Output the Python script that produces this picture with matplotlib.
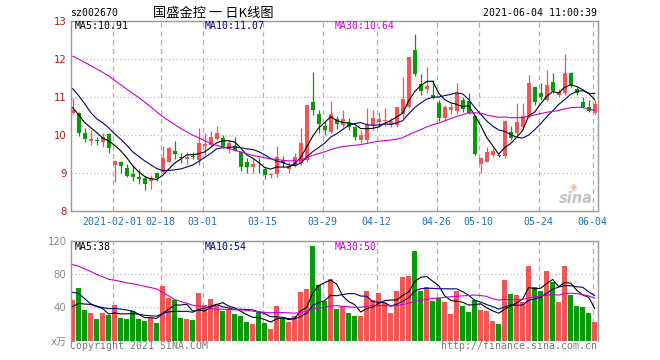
import matplotlib
matplotlib.use('Agg')
import matplotlib.pyplot as plt
import numpy as np
import pandas as pd

# daily K-line, 2021-01-21 .. 2021-06-04 (88 trading days)
open_ = [10.58, 10.57, 10.06, 9.83, 9.85, 9.81, 10.02, 9.22, 9.30, 9.12,
         8.97, 8.89, 8.88, 8.80, 9.00, 9.03, 9.30, 9.58, 9.41, 9.37,
         9.44, 9.34, 9.70, 9.74, 9.89, 9.91, 9.63, 9.71, 9.56, 9.30,
         9.15, 9.22, 9.10, 8.95, 8.97, 9.34, 9.10, 9.18, 9.26, 9.34,
         10.88, 10.55, 10.24, 10.09, 10.42, 10.26, 10.33, 10.22, 9.87, 9.87,
         10.27, 10.35, 10.36, 10.30, 10.26, 10.55, 10.75, 12.24, 11.34, 11.20,
         11.05, 10.83, 10.46, 10.66, 10.62, 10.92, 10.90, 10.50, 9.25, 9.30,
         9.48, 9.47, 9.45, 10.08, 10.04, 10.20, 10.48, 11.27, 11.10, 10.92,
         11.39, 11.05, 11.10, 11.62, 11.20, 10.88, 10.73, 10.58]
high = [10.97, 10.60, 10.18, 10.12, 9.96, 10.04, 10.04, 9.33, 9.32, 9.25,
        9.20, 9.10, 8.92, 8.95, 9.03, 9.70, 9.68, 9.83, 9.53, 9.54,
        9.56, 10.18, 10.04, 10.10, 10.24, 10.00, 9.88, 9.95, 9.58, 9.39,
        9.38, 9.39, 9.17, 9.01, 9.71, 9.45, 9.30, 9.53, 10.18, 10.80,
        11.67, 10.66, 10.35, 10.90, 10.50, 10.66, 10.46, 10.25, 10.13, 10.70,
        10.66, 10.61, 10.70, 10.45, 10.75, 11.53, 12.06, 12.66, 11.60, 11.78,
        11.45, 10.92, 10.80, 10.85, 11.38, 11.00, 11.11, 10.52, 9.42, 9.69,
        9.67, 9.50, 10.40, 10.25, 10.83, 10.83, 11.58, 11.30, 11.36, 11.71,
        11.64, 11.20, 12.13, 11.65, 11.27, 11.00, 10.92, 10.92]
low = [10.55, 9.97, 9.82, 9.73, 9.74, 9.69, 9.52, 8.77, 9.00, 8.90,
       8.78, 8.72, 8.56, 8.58, 8.80, 9.00, 9.28, 9.37, 9.26, 9.24,
       9.37, 9.22, 9.47, 9.72, 9.87, 9.66, 9.53, 9.57, 9.05, 9.00,
       9.01, 8.99, 8.83, 8.86, 8.90, 9.17, 9.00, 9.16, 9.22, 9.30,
       10.53, 10.05, 10.00, 10.05, 10.15, 10.22, 10.13, 9.87, 9.80, 9.80,
       10.13, 10.22, 10.25, 10.22, 10.20, 10.45, 10.70, 11.55, 11.05, 11.10,
       10.95, 10.38, 10.38, 10.55, 10.55, 10.60, 10.55, 9.48, 8.99, 9.28,
       9.43, 9.42, 9.40, 9.88, 10.00, 10.17, 10.45, 10.80, 10.92, 10.90,
       11.10, 11.00, 11.05, 11.27, 11.05, 10.70, 10.60, 10.55]
close = [10.66, 10.04, 9.89, 9.89, 9.84, 9.95, 9.65, 9.31, 9.18, 8.93,
         8.89, 8.84, 8.70, 8.88, 8.86, 9.40, 9.67, 9.50, 9.39, 9.43,
         9.42, 9.78, 9.76, 9.96, 10.06, 9.68, 9.78, 9.60, 9.17, 9.15,
         9.25, 9.20, 8.95, 8.97, 9.41, 9.26, 9.18, 9.41, 9.78, 10.79,
         10.66, 10.29, 10.12, 10.55, 10.28, 10.41, 10.22, 9.94, 10.00, 10.26,
         10.46, 10.41, 10.40, 10.38, 10.73, 10.95, 12.04, 11.60, 11.17, 11.29,
         10.98, 10.46, 10.75, 10.75, 11.10, 10.68, 10.57, 9.50, 9.39, 9.54,
         9.59, 9.45, 10.38, 9.93, 10.35, 10.51, 11.36, 10.88, 11.01, 11.32,
         11.17, 11.14, 11.64, 11.32, 11.11, 10.75, 10.64, 10.82]
volume = [48.8, 63.2, 36.8, 33.2, 26.0, 33.2, 31.2, 43.2, 27.2, 26.0,
          35.6, 26.0, 23.6, 27.2, 21.2, 65.6, 51.2, 48.8, 27.2, 26.0,
          24.8, 57.2, 42.8, 50.0, 42.8, 35.6, 36.8, 32.0, 29.6, 22.4,
          20.0, 34.0, 21.2, 14.0, 41.6, 27.2, 22.4, 29.6, 58.4, 62.0,
          113.6, 66.8, 47.6, 74.0, 38.0, 41.6, 33.2, 29.6, 29.6, 59.6,
          48.8, 57.2, 45.2, 33.2, 59.6, 76.4, 77.6, 107.6, 59.6, 64.4,
          47.6, 51.2, 46.4, 32.0, 59.6, 41.6, 34.4, 48.8, 36.8, 35.6,
          23.6, 20.0, 72.8, 56.0, 54.8, 46.4, 89.6, 64.4, 59.6, 83.6,
          70.4, 46.4, 89.6, 55.0, 42.0, 41.0, 33.0, 22.0]

# sessions before the window, estimated from where the MA lines start
prior_close = [12.3, 12.5, 12.4, 12.6, 12.5, 12.6, 12.8, 12.5, 12.4, 12.3,
               12.1, 12.3, 12.6, 12.9, 13.1, 12.9, 12.6, 12.4, 12.2, 12.0,
               11.9, 12.0, 12.2, 11.5, 11.0, 11.0, 10.9, 10.55, 10.5]
prior_volume = [120, 135, 125, 130, 118, 126, 75, 68, 80, 70,
                66, 74, 72, 70, 190, 175, 180, 100, 90, 95,
                75, 100, 95, 60, 45, 44, 41, 35, 36]

date_labels = ['2021-02-01', '02-18', '03-01', '03-15', '03-29',
               '04-12', '04-26', '05-10', '05-24', '06-04']
date_index = [7, 15, 22, 32, 42, 51, 61, 68, 78, 87]

price_ticks = [8, 9, 10, 11, 12, 13]
vol_ticks = [0, 40, 80, 120]
vol_tick_labels = ['x万', '40', '80', '120']

RED = '#f05656'
GREEN = '#0a990a'
MA_COLORS = ['#000000', '#000080', '#cc00cc']
FRAME = '#999999'
MONO = 'DejaVu Sans Mono'

W, H = 660, 360
fig = plt.figure(figsize=(6.6, 3.6), dpi=100)


def box(x0, y0, x1, y1):
    return [x0 / W, 1 - y1 / H, (x1 - x0) / W, (y1 - y0) / H]


def ftext(x, y, s, **kw):
    fig.text(x / W, 1 - y / H, s, va='center', **kw)


ax = fig.add_axes(box(70.7, 21, 597.7, 211))
axv = fig.add_axes(box(70.7, 240.7, 597.7, 340.7))

o = np.array(open_)
c = np.array(close)
x = np.arange(len(c))
cols = np.where(c >= o, RED, GREEN)

# candles
ax.vlines(x, low, high, colors=cols, lw=0.9, zorder=2)
ax.bar(x, np.maximum(np.abs(c - o), 0.02), bottom=np.minimum(o, c),
       width=0.72, color=cols, lw=0, zorder=3)

# moving averages
all_c = pd.Series(prior_close + close)
all_v = pd.Series(prior_volume + volume)
n0 = len(prior_close)
for n, col in zip([5, 10, 30], MA_COLORS):
    ax.plot(x, all_c.rolling(n).mean().to_numpy()[n0:], color=col, lw=0.8, zorder=4)
    axv.plot(x, all_v.rolling(n).mean().to_numpy()[n0:], color=col, lw=0.8, zorder=4)

# volume bars
axv.bar(x, volume, width=0.86, color=cols, lw=0, zorder=2)

grid_pos = [i - 0.35 for i in date_index]
for a in (ax, axv):
    a.set_xlim(-0.33, 87.5)
    a.set_xticks(grid_pos)
    a.grid(axis='x', color='#b0b0b0', lw=0.9, ls=(0, (4, 3)))
    a.grid(axis='y', color='#b8b8b8', lw=0.9, ls=(0, (1, 2)))
    a.set_axisbelow(True)
    a.tick_params(length=0)
    for s in a.spines.values():
        s.set_color(FRAME)
        s.set_linewidth(1)

ax.set_ylim(8, 13)
ax.set_yticks(price_ticks)
ax.set_yticklabels([str(t) for t in price_ticks], color='#b01818', fontsize=7.3)
ax.tick_params(axis='y', pad=3)
ax.set_xticklabels(date_labels, color='#1c72b4', family=MONO, fontsize=7.1)
ax.tick_params(axis='x', pad=4)

axv.set_ylim(0, 120)
axv.set_yticks(vol_ticks)
axv.set_yticklabels(vol_tick_labels, color='#888888', fontsize=7.3)
axv.get_yticklabels()[0].set_family(['DejaVu Sans', 'Noto Sans CJK SC'])
axv.tick_params(axis='y', pad=3)
axv.set_xticklabels([])
axv.spines['bottom'].set_visible(False)

# header texts
ftext(70, 13, 'sz002670', family=MONO, fontsize=7.1)
ftext(213, 13, '国盛金控 一 日K线图', ha='center',
      family=['Noto Sans CJK SC', 'DejaVu Sans'], fontsize=9.5)
ftext(597, 13, '2021-06-04 11:00:39', ha='right', family=MONO, fontsize=7.1)

ftext(75, 26, 'MA5:10.91', family=MONO, fontsize=7.1, color=MA_COLORS[0])
ftext(204.5, 26, 'MA10:11.07', family=MONO, fontsize=7.1, color=MA_COLORS[1])
ftext(334.5, 26, 'MA30:10.64', family=MONO, fontsize=7.1, color=MA_COLORS[2])

ftext(75, 246.5, 'MA5:38', family=MONO, fontsize=7.1, color=MA_COLORS[0])
ftext(204.5, 246.5, 'MA10:54', family=MONO, fontsize=7.1, color=MA_COLORS[1])
ftext(334.5, 246.5, 'MA30:50', family=MONO, fontsize=7.1, color=MA_COLORS[2])

ftext(70, 346, 'Copyright 2021 SINA.COM', family=MONO, fontsize=7.1, color='#777777')
ftext(597, 346, 'http://finance.sina.com.cn', ha='right', family=MONO,
      fontsize=7.1, color='#777777')

# sina watermark
ftext(576, 198, 'sina', ha='center', fontsize=10.5, fontweight='bold',
      style='italic', color='#c4c4c4', zorder=5)
ftext(573, 187, '◉', ha='center', fontsize=6.5, color='#f2b8b8', zorder=5)

fig.savefig('out.png', dpi=100)
